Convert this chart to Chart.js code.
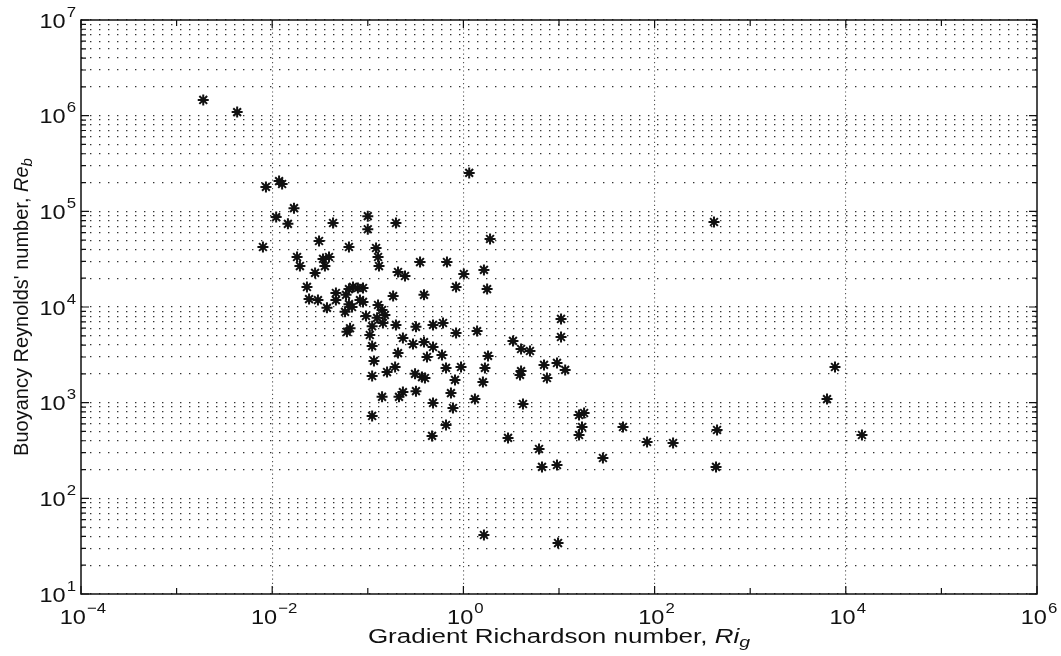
<!DOCTYPE html>
<html>
<head>
<meta charset="utf-8">
<title>Buoyancy Reynolds number vs gradient Richardson number</title>
<script src="https://cdn.jsdelivr.net/npm/chart.js@4/dist/chart.umd.min.js"></script>
<style>
  html, body { margin: 0; background: #fff; }
  canvas { display: block; }
</style>
</head>
<body>
<canvas id="rebChart" width="1061" height="656"></canvas>
<script>
// Gradient Richardson number Ri_g for each sample
const richardson = [
  0.0019, 0.0043, 0.0086, 0.0118, 0.0127, 0.0169, 0.0110, 0.0146, 0.0433, 0.100, 0.100, 0.197, 1.15,
  0.0080, 0.0309, 0.0635, 0.122, 0.128, 0.131, 0.0182, 0.0195, 0.0340, 0.0393, 0.0356, 0.0281, 0.207, 0.245,
  0.352, 0.673, 1.90, 1.01, 1.64, 0.838, 1.77,
  0.0231, 0.0243, 0.0301, 0.0374, 0.0464, 0.0464, 0.0592, 0.0635, 0.0700, 0.0788, 0.0891, 0.0635, 0.0891,
  0.0684, 0.0578, 0.0957, 0.128, 0.141, 0.151, 0.184, 0.387, 0.0828,
  0.144, 0.125, 0.111, 0.0605, 0.0652, 0.105, 0.197, 0.319, 0.481, 0.612, 0.838, 1.39, 10.5, 10.5, 3.30, 4.01, 4.97,
  0.111, 0.233, 0.297, 0.387, 0.481, 0.207, 0.416, 0.597, 0.116, 1.81, 6.97, 9.53, 11.6, 4.01, 3.91, 7.48,
  1.68, 0.944, 0.658, 0.193, 0.159, 0.111, 0.312, 0.369, 0.396, 0.817, 1.60,
  0.741, 1.32, 4.20, 0.141, 0.212, 0.233, 0.319, 0.481, 0.778, 0.111, 16.2, 18.3, 17.4, 16.2, 46.7, 0.658,
  0.470, 2.93, 6.18, 6.64, 9.53, 28.8, 83.4, 156,
  418, 7710, 6360, 14760, 450, 439, 1.64, 9.77
];

// Buoyancy Reynolds number Re_b, same order as richardson
const reynolds = [
  1.46e6, 1.09e6, 1.80e5, 2.07e5, 1.93e5, 1.08e5, 8.7e4, 7.4e4, 7.55e4, 8.9e4, 6.5e4, 7.55e4, 2.52e5,
  4.24e4, 4.9e4, 4.24e4, 4.14e4, 3.33e4, 2.68e4, 3.33e4, 2.68e4, 3.18e4, 3.33e4, 2.68e4, 2.27e4, 2.32e4, 2.11e4,
  2.95e4, 2.95e4, 5.14e4, 2.21e4, 2.44e4, 1.62e4, 1.54e4,
  1.62e4, 1.21e4, 1.18e4, 9.8e3, 1.40e4, 1.18e4, 1.34e4, 1.54e4, 1.62e4, 1.58e4, 1.58e4, 1.07e4, 1.13e4,
  1.0e4, 8.9e3, 8.05e3, 1.05e4, 9.3e3, 8.25e3, 1.30e4, 1.34e4, 1.18e4,
  6.8e3, 7.7e3, 6.3e3, 5.5e3, 6.0e3, 5.1e3, 6.5e3, 6.2e3, 6.5e3, 6.8e3, 5.35e3, 5.6e3, 7.5e3, 4.86e3, 4.42e3, 3.64e3, 3.47e3,
  3.9e3, 4.74e3, 4.1e3, 4.3e3, 3.82e3, 3.3e3, 3.0e3, 3.15e3, 2.73e3, 3.08e3, 2.48e3, 2.6e3, 2.2e3, 2.14e3, 1.95e3, 1.81e3,
  2.31e3, 2.36e3, 2.31e3, 2.36e3, 2.09e3, 1.9e3, 2.0e3, 1.85e3, 1.81e3, 1.73e3, 1.64e3,
  1.26e3, 1.09e3, 968, 1.15e3, 1.15e3, 1.29e3, 1.32e3, 993, 880, 726, 743, 780, 557, 459, 557, 584,
  449, 428, 328, 213, 223, 264, 388, 379,
  7.74e4, 2360, 1090, 459, 518, 213, 41.4, 34.1
];

// axis decades
const xDecades = [-4, -3, -2, -1, 0, 1, 2, 3, 4, 5, 6];
const xLabelPowers = [-4, -2, 0, 2, 4, 6];
const yLabelPowers = [1, 2, 3, 4, 5, 6, 7];
const yMantissas = [1, 2, 3, 4, 5, 6, 7, 8, 9];

const xTitle = 'Gradient Richardson number, ';
const xTitleSym = 'Ri';
const xTitleSub = 'g';
const yTitle = "Buoyancy Reynolds' number, ";
const yTitleSym = 'Re';
const yTitleSub = 'b';

const FONT = '"Liberation Sans", Arial, Helvetica, sans-serif';
const tickStretch = 1.12;
const titleStretch = 1.3;

// every decade plus the 2..9 minors on the y axis
const yTickValues = [];
yLabelPowers.forEach(p => {
  if (p === yLabelPowers[yLabelPowers.length - 1]) { yTickValues.push(Math.pow(10, p)); return; }
  yMantissas.forEach(m => yTickValues.push(m * Math.pow(10, p)));
});
const xTickValues = xDecades.map(p => Math.pow(10, p));

const points = richardson.map((ri, i) => ({ x: ri, y: reynolds[i] }));

// draw a row of text pieces (text, size, italic, dy) with a horizontal stretch
function drawRuns(ctx, runs, x, y, align, sx) {
  let total = 0;
  runs.forEach(r => {
    ctx.font = (r.italic ? 'italic ' : '') + r.size + 'px ' + FONT;
    r.w = ctx.measureText(r.text).width;
    total += r.w + (r.gap || 0);
  });
  let cur = align === 'center' ? -total / 2 : align === 'right' ? -total : 0;
  ctx.save();
  ctx.translate(x, y);
  ctx.scale(sx, 1);
  ctx.textAlign = 'left';
  ctx.textBaseline = 'alphabetic';
  runs.forEach(r => {
    cur += r.gap || 0;
    ctx.font = (r.italic ? 'italic ' : '') + r.size + 'px ' + FONT;
    ctx.fillText(r.text, cur, r.dy || 0);
    cur += r.w;
  });
  ctx.restore();
}

function powerRuns(p) {
  const exp = p < 0 ? '\u2212' + (-p) : String(p);
  return [
    { text: '10', size: 21 },
    { text: exp, size: 15, dy: -11, gap: 1 }
  ];
}

const axisBox = {
  id: 'axisBox',
  afterDraw(chart) {
    const { ctx, chartArea: a, scales: { x, y } } = chart;
    ctx.save();
    ctx.fillStyle = '#111';
    ctx.strokeStyle = '#111';

    // box
    ctx.lineWidth = 1.5;
    ctx.strokeRect(a.left, a.top, a.right - a.left, a.bottom - a.top);

    // inward tick marks
    ctx.lineWidth = 1.2;
    ctx.beginPath();
    xDecades.forEach(p => {
      const px = x.getPixelForValue(Math.pow(10, p));
      const len = xLabelPowers.includes(p) ? 8 : 6;
      ctx.moveTo(px, a.bottom); ctx.lineTo(px, a.bottom - len);
      ctx.moveTo(px, a.top); ctx.lineTo(px, a.top + len);
    });
    yLabelPowers.forEach(p => {
      yMantissas.forEach(m => {
        const v = m * Math.pow(10, p);
        if (v > y.max * 1.0001) return;
        const py = y.getPixelForValue(v);
        const len = m === 1 ? 8 : 5;
        ctx.moveTo(a.left, py); ctx.lineTo(a.left + len, py);
        ctx.moveTo(a.right, py); ctx.lineTo(a.right - len, py);
      });
    });
    ctx.stroke();

    // tick labels
    yLabelPowers.forEach(p => {
      const py = y.getPixelForValue(Math.pow(10, p));
      drawRuns(ctx, powerRuns(p), a.left - 5, py + 7.5, 'right', tickStretch);
    });
    xLabelPowers.forEach(p => {
      const px = x.getPixelForValue(Math.pow(10, p));
      drawRuns(ctx, powerRuns(p), px + 2, a.bottom + 30, 'center', tickStretch);
    });

    // axis titles
    drawRuns(ctx, [
      { text: xTitle, size: 20 },
      { text: xTitleSym, size: 20, italic: true },
      { text: xTitleSub, size: 15, italic: true, dy: 4 }
    ], (a.left + a.right) / 2, a.bottom + 49, 'center', titleStretch);

    ctx.save();
    ctx.translate(28, (a.top + a.bottom) / 2);
    ctx.rotate(-Math.PI / 2);
    drawRuns(ctx, [
      { text: yTitle, size: 20 },
      { text: yTitleSym, size: 20, italic: true },
      { text: yTitleSub, size: 15, italic: true, dy: 4 }
    ], 0, 0, 'center', 1);
    ctx.restore();

    ctx.restore();
  }
};

new Chart(document.getElementById('rebChart'), {
  type: 'scatter',
  data: {
    datasets: [{
      data: points,
      pointStyle: 'star',
      pointRadius: 5.5,
      pointBorderWidth: 2,
      borderColor: '#111',
      backgroundColor: '#111',
      showLine: false
    }]
  },
  options: {
    responsive: false,
    animation: false,
    layout: { padding: { left: 81, right: 24, top: 20, bottom: 62 } },
    plugins: { legend: { display: false }, tooltip: { enabled: false } },
    scales: {
      x: {
        type: 'logarithmic',
        min: 1e-4,
        max: 1e6,
        afterBuildTicks: axis => { axis.ticks = xTickValues.map(v => ({ value: v })); },
        ticks: { display: false },
        grid: {
          drawTicks: false,
          lineWidth: 1.1,
          color: c => {
            if (!c.tick) return 'rgba(0,0,0,0)';
            const p = Math.round(Math.log10(c.tick.value));
            return (xLabelPowers.includes(p) && p !== -4 && p !== 6) ? '#555' : 'rgba(0,0,0,0)';
          }
        },
        border: { display: false, dash: [1.2, 3] }
      },
      y: {
        type: 'logarithmic',
        min: 10,
        max: 1e7,
        afterBuildTicks: axis => { axis.ticks = yTickValues.map(v => ({ value: v })); },
        ticks: { display: false },
        grid: { drawTicks: false, lineWidth: 1.2, color: '#333' },
        border: { display: false, dash: [1.4, 7.6] }
      }
    }
  },
  plugins: [axisBox]
});
</script>
</body>
</html>
